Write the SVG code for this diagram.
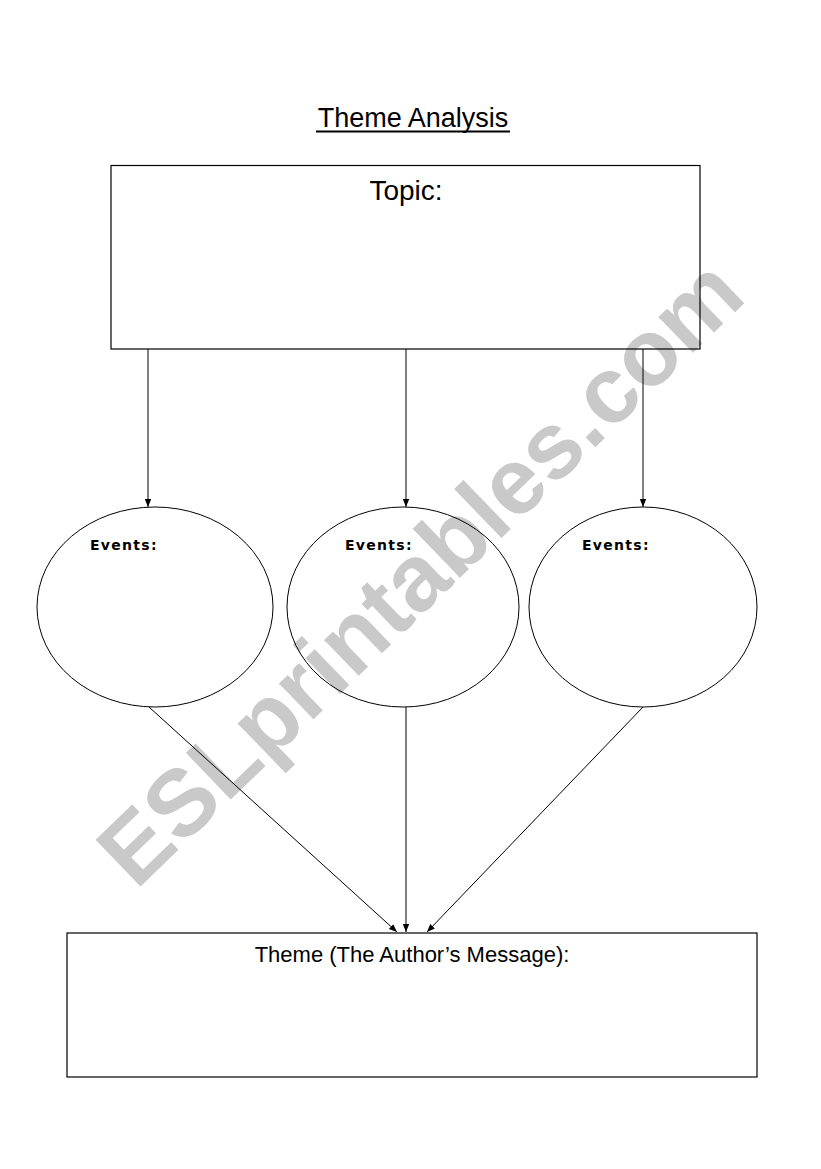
<svg xmlns="http://www.w3.org/2000/svg" width="821" height="1169" viewBox="0 0 821 1169">
<style>
.box{fill:none;stroke:#000;stroke-width:1.2}
.ell{fill:none;stroke:#000;stroke-width:1}
.conn{stroke:#000;stroke-width:1;fill:none;marker-end:url(#ah)}
.t{font-family:"Liberation Sans",Arial,sans-serif;fill:#000}
.ev{font-family:"DejaVu Sans",sans-serif;font-size:14px;font-weight:bold;letter-spacing:1.3px;fill:#000}
.wm{font-family:"Liberation Sans",Arial,sans-serif;font-weight:bold;font-size:94px;fill:#c9c9c9}
</style>
<defs>
<marker id="ah" viewBox="0 0 10 10" refX="10" refY="5" markerWidth="8" markerHeight="8" markerUnits="userSpaceOnUse" orient="auto">
<path d="M0,1 L10,5 L0,9 Z" fill="#000"/>
</marker>
</defs>
<rect width="821" height="1169" fill="#fff"/>
<g id="watermark">
<text class="wm" transform="translate(420,572) rotate(-44)" x="0" y="32" text-anchor="middle">ESLprintables.com</text>
</g>
<g id="title">
<text class="t" x="413" y="127" font-size="27" text-anchor="middle">Theme Analysis</text>
<line x1="316" y1="131.5" x2="510" y2="131.5" stroke="#000" stroke-width="2"/>
</g>
<g id="topic">
<rect class="box" x="111" y="165.5" width="589" height="183.5"/>
<text class="t" x="406" y="200" font-size="28" text-anchor="middle">Topic:</text>
</g>
<g id="events1">
<ellipse class="ell" cx="155" cy="607" rx="118" ry="100"/>
<text class="ev" x="90" y="550">Events:</text>
</g>
<g id="events2">
<ellipse class="ell" cx="403" cy="607" rx="116" ry="100"/>
<text class="ev" x="345" y="550">Events:</text>
</g>
<g id="events3">
<ellipse class="ell" cx="643" cy="607" rx="114" ry="100"/>
<text class="ev" x="582" y="550">Events:</text>
</g>
<g id="theme">
<rect class="box" x="67" y="933" width="690" height="144"/>
<text class="t" x="412" y="962" font-size="22" text-anchor="middle">Theme (The Author’s Message):</text>
</g>
<g id="connectors">
<line class="conn" x1="148" y1="349" x2="148" y2="507"/>
<line class="conn" x1="406" y1="349" x2="406" y2="507"/>
<line class="conn" x1="643" y1="349" x2="643" y2="507"/>
<line class="conn" x1="149" y1="707" x2="397" y2="932"/>
<line class="conn" x1="406" y1="707" x2="406" y2="932"/>
<line class="conn" x1="643" y1="707" x2="427" y2="932"/>
</g>
</svg>
